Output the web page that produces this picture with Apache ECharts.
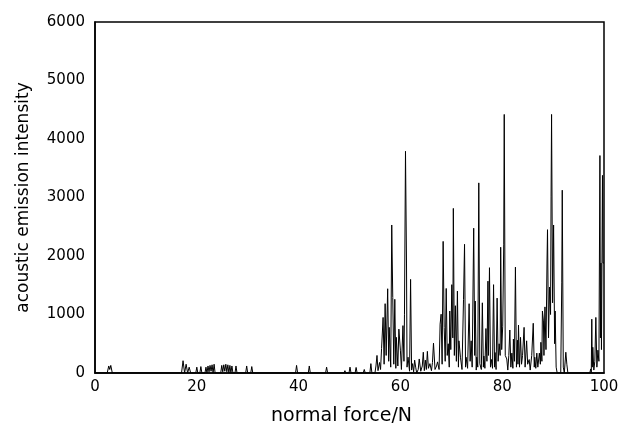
<!DOCTYPE html>
<html>
<head>
<meta charset="utf-8">
<script src="https://cdn.jsdelivr.net/npm/echarts@6/dist/echarts.min.js"></script>
<style>
html,body{margin:0;padding:0;background:#fff;}
#chart{width:629px;height:431px;}
</style>
</head>
<body>
<div id="chart"></div>
<script>
// [normal force (N), acoustic emission intensity]
var segEarly = [
  [0,0],[2.4,0],[2.7,120],[2.9,60],[3.1,130],[3.4,0],
  [17.0,0],[17.3,210],[17.6,0],[17.9,150],[18.2,0],[18.5,100],[18.8,0],
  [19.8,0],[20.0,100],[20.2,0],[20.6,0],[20.8,110],[21.0,0],[21.6,0],[21.8,100],[22.0,0],
  [22.2,120],[22.4,20],[22.6,130],[22.8,30],[23.0,140],[23.2,0],[23.4,150],[23.6,0],
  [24.7,0],[24.9,130],[25.1,20],[25.3,140],[25.5,30],[25.7,150],[25.9,20],[26.1,140],[26.3,0],[26.5,130],[26.7,0],[26.9,120],[27.1,0],
  [27.5,0],[27.7,120],[27.9,0],
  [29.6,0],[29.8,120],[30.0,0],[30.6,0],[30.8,110],[31.0,0],
  [39.4,0],[39.6,130],[39.8,0],[41.9,0],[42.1,120],[42.3,0],[45.3,0],[45.5,100],[45.7,0],
  [48.9,0],[49.1,40],[49.3,0],[49.9,0],[50.1,100],[50.3,0],[51.1,0],[51.3,95],[51.5,0],
  [52.7,0],[52.9,60],[53.1,0],[54.0,0],[54.2,160],[54.4,0]
];
var segCluster60 = [
  [55.0,0],[55.2,120],[55.4,300],[55.6,40],[55.9,180],[56.1,60],[56.3,420],[56.6,950],[56.8,150],
  [57.0,1185],[57.2,300],[57.5,1440],[57.7,200],[57.8,780],[58.1,100],[58.3,2530],[58.5,1290],
  [58.7,150],[58.9,1260],[59.1,80],[59.2,610],[59.5,120],[59.7,750],[60.0,390],[60.2,60],
  [60.5,810],[60.7,200],[60.8,1005],[61.0,3790],[61.2,1880],[61.3,100],[61.5,270],[61.8,30],
  [62.0,1600],[62.2,50],[62.4,160],[62.6,20],[62.8,220],[63.0,100],[63.2,0]
];
var segMid = [
  [63.5,60],[63.7,240],[64.0,30],[64.3,120],[64.5,355],[64.7,40],[64.9,220],[65.1,60],[65.3,370],
  [65.5,80],[65.8,160],[66.1,40],[66.3,180],[66.5,510],[66.8,60],[67.1,120],[67.3,190],[67.6,60],
  [67.8,835],[68.0,1005],[68.2,150],[68.4,2250],[68.6,780],[68.8,200],[69.0,1445],[69.2,300],
  [69.4,500],[69.6,100],[69.7,1060],[69.9,400],[70.1,1510],[70.3,600],[70.4,2814],[70.6,300],
  [70.8,1150],[71.0,200],[71.2,1400],[71.4,100],[71.5,550],[71.8,270],[72.1,60],[72.4,1260],
  [72.6,2200],[72.8,100],[72.9,270],[73.2,80],[73.5,1185],[73.7,200],[73.9,550],[74.1,100],
  [74.4,2475],[74.6,300],[74.7,1230],[74.9,50],[75.0,270],[75.2,100],[75.4,3250],[75.6,160],
  [75.9,60],[76.1,1200],[76.3,100],[76.4,290],[76.6,80],[76.8,760],[77.0,200],[77.2,1570],
  [77.3,300],[77.5,1800],[77.7,100],[77.9,230],[78.1,80],[78.3,1510],[78.5,100],[78.6,350],
  [78.8,60],[79.0,1280],[79.2,200],[79.4,500],[79.6,300],[79.7,2150]
];
var segCluster80 = [
  [79.9,400],[80.1,800],[80.3,2190],[80.4,4420],[80.6,300],[80.9,240],[81.1,50],[81.3,300],
  [81.5,735],[81.7,100],[81.9,340],[82.1,80],[82.2,580],[82.4,200],[82.6,1810],[82.8,100],
  [83.0,560],[83.1,150],[83.2,820],[83.4,100],[83.6,610],[83.8,150],[84.0,300],[84.3,780],
  [84.5,100],[84.8,550],[85.0,150],[85.3,230],[85.5,50],[85.8,300],[86.1,850],[86.3,100],
  [86.4,270],[86.6,80],[86.8,340],[87.0,100],[87.3,340],[87.5,150],[87.6,525],[87.8,200],
  [87.9,1060],[88.1,890],[88.2,300],[88.4,1130],[88.6,400],[88.8,1880],[88.9,2450],[89.1,600],
  [89.3,1470],[89.5,1000],[89.6,3010],[89.7,4420],[89.9,1200],[90.1,2530],[90.3,500],[90.4,1060],
  [90.6,100],[90.8,0],[91.5,0],[91.7,1540],[91.8,3125],[92.0,100],[92.2,0],[92.5,355],[92.7,150],[92.9,0]
];
var segEnd = [
  [97.2,0],[97.4,70],[97.5,0],[97.6,920],[97.7,100],[97.8,440],[98.0,50],[98.2,200],[98.4,950],
  [98.6,100],[98.8,390],[99.0,200],[99.2,3717],[99.3,600],[99.4,1880],[99.5,400],[99.7,3378],
  [99.8,1880],[100,1880]
];
var xTicks = [0, 20, 40, 60, 80, 100];
var yTicks = [0, 1000, 2000, 3000, 4000, 5000, 6000];

var series = segEarly.concat(segCluster60, segMid, segCluster80, segEnd);

var chart = echarts.init(document.getElementById('chart'), null, {renderer: 'canvas'});
var fam = 'DejaVu Sans';
chart.setOption({
  animation: false,
  backgroundColor: '#fff',
  grid: {left: 95, right: 25, top: 22, bottom: 55, show: true, borderColor: '#000', borderWidth: 1.5, backgroundColor: 'transparent'},
  xAxis: {
    type: 'value', min: xTicks[0], max: xTicks[xTicks.length - 1], interval: 20,
    name: 'normal force/N', nameLocation: 'middle', nameGap: 34,
    nameTextStyle: {fontFamily: fam, fontSize: 19, color: '#000', padding: [0, 16, 0, 0]},
    axisLine: {show: true, lineStyle: {color: '#000', width: 1.5}},
    axisTick: {show: false},
    splitLine: {show: false},
    axisLabel: {fontFamily: fam, fontSize: 15, color: '#000', margin: 7, formatter: function (v) { return String(v); }}
  },
  yAxis: {
    type: 'value', min: yTicks[0], max: yTicks[yTicks.length - 1], interval: 1000,
    name: 'acoustic emission intensity', nameLocation: 'middle', nameGap: 63,
    nameTextStyle: {fontFamily: fam, fontSize: 17, color: '#000'},
    axisLine: {show: true, lineStyle: {color: '#000', width: 1.5}},
    axisTick: {show: false},
    splitLine: {show: false},
    axisLabel: {fontFamily: fam, fontSize: 15, color: '#000', margin: 10, formatter: function (v) { return String(v); }}
  },
  series: [{
    type: 'line', data: series, showSymbol: false, symbol: 'none',
    lineStyle: {color: '#000', width: 1}, clip: true
  }]
});
</script>
</body>
</html>
